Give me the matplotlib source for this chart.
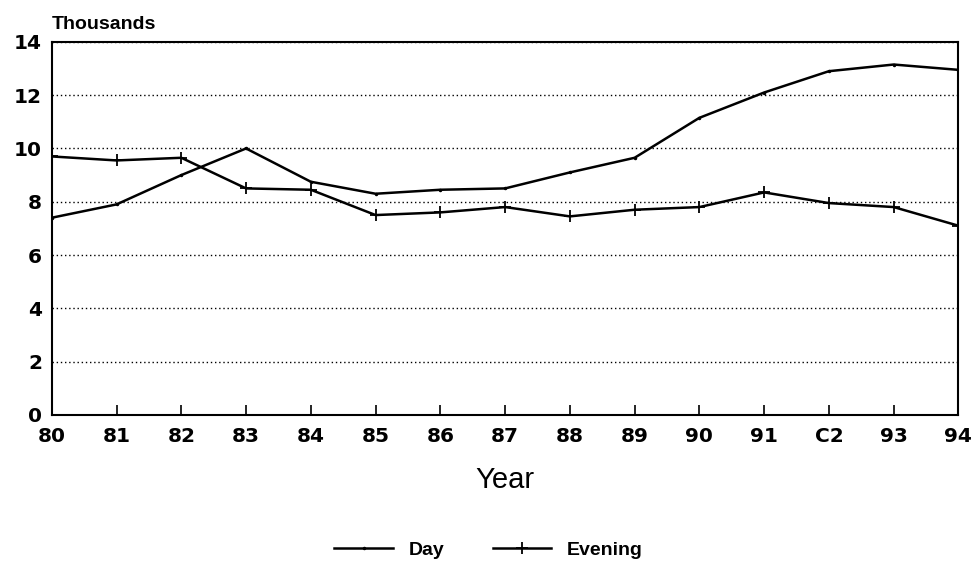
import matplotlib
matplotlib.use("Agg")
import matplotlib.pyplot as plt

years = list(range(80, 95))
year_labels = ['80', '81', '82', '83', '84', '85', '86', '87', '88', '89', '90', '91', 'C2', '93', '94']
day = [7.4, 7.9, 9.0, 10.0, 8.75, 8.3, 8.45, 8.5, 9.1, 9.65, 11.15, 12.1, 12.9, 13.15, 12.95]
evening = [9.7, 9.55, 9.65, 8.5, 8.45, 7.5, 7.6, 7.8, 7.45, 7.7, 7.8, 8.35, 7.95, 7.8, 7.1]

plt.rcParams['font.family'] = ['Liberation Sans', 'DejaVu Sans']

fig = plt.figure(figsize=(9.77, 5.66), dpi=100)
ax = fig.add_axes([0.053, 0.267, 0.928, 0.659])

ax.plot(years, day, color='black', lw=1.8, marker='.', markersize=3, label='Day')
ax.plot(years, evening, color='black', lw=1.8, marker='+', markersize=9, mew=1.3, label='Evening')

ax.set_xlim(80, 94)
ax.set_ylim(0, 14)
ax.set_yticks(range(0, 15, 2))
ax.set_xticks(years)
ax.set_xticklabels(year_labels)
ax.yaxis.grid(True, linestyle=(0, (1, 2)), color='black', lw=1)
ax.tick_params(axis='x', direction='in', length=7, width=1.2, pad=9)
ax.tick_params(axis='y', length=0, pad=7)
for lbl in ax.get_xticklabels() + ax.get_yticklabels():
    lbl.set_fontweight('bold')
    lbl.set_family('DejaVu Sans')
    lbl.set_fontsize(14.5)
for s in ax.spines.values():
    s.set_linewidth(1.5)

ax.set_xlabel('Year', fontsize=21, labelpad=14)
ax.text(0.0, 1.025, 'Thousands', transform=ax.transAxes, fontsize=14, fontweight='bold', va='bottom')

fig.legend(loc='lower center', bbox_to_anchor=(0.5, -0.018), ncol=2, frameon=False,
           prop={'size': 14, 'weight': 'bold'}, handlelength=3, columnspacing=2.5)

fig.savefig('out.png')
